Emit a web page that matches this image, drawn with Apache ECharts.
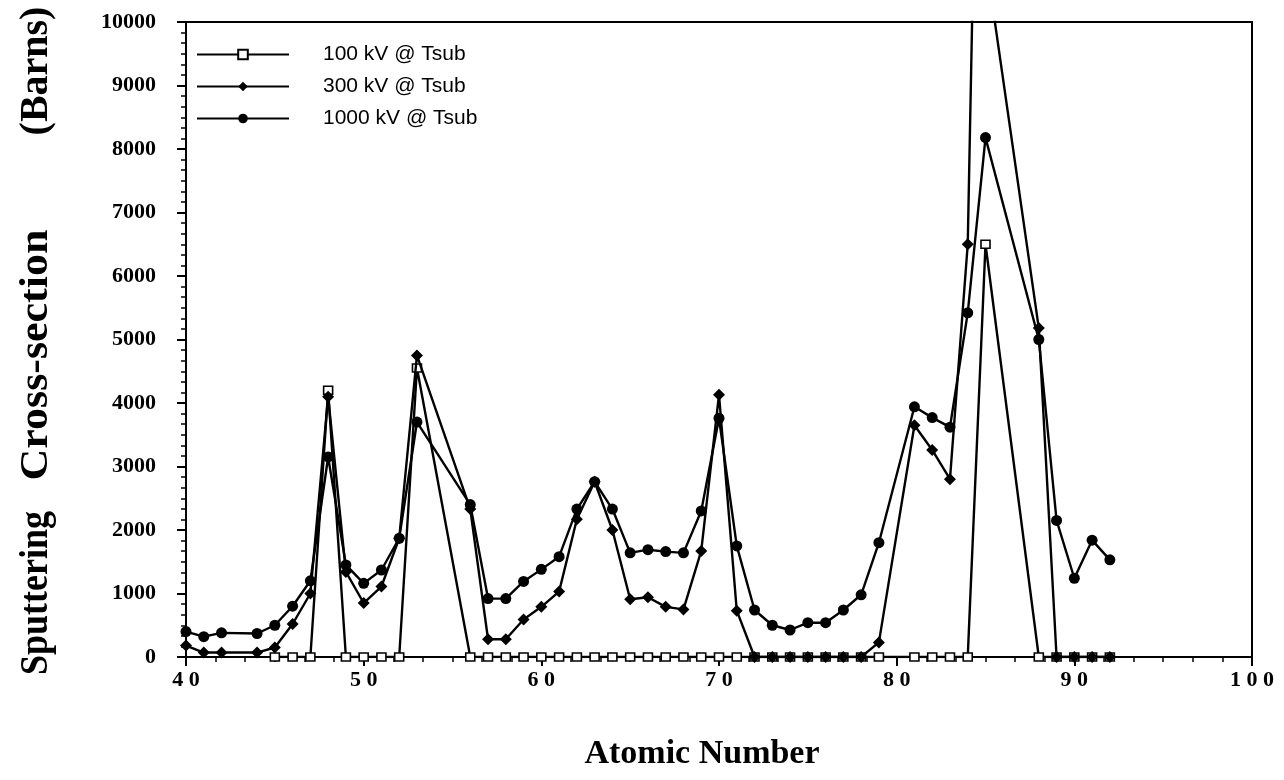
<!DOCTYPE html>
<html>
<head>
<meta charset="utf-8">
<script src="https://cdn.jsdelivr.net/npm/echarts@6/dist/echarts.min.js"></script>
<style>
  html, body { margin: 0; padding: 0; background: #fff; }
  #chart { width: 1284px; height: 780px; }
</style>
</head>
<body>
<div id="chart"></div>
<script>
// ---- Data (x = atomic number, y = cross-section in barns) ----
const seriesNames = ['100 kV @ Tsub', '300 kV @ Tsub', '1000 kV @ Tsub'];

const z100 = [45,46,47,48,49,50,51,52,53,56,57,58,59,60,61,62,63,64,65,66,67,68,69,70,71,72,73,74,75,76,77,78,79,81,82,83,84,85,88,89,90,91,92];
const v100 = [0,0,0,4200,0,0,0,0,4550,0,0,0,0,0,0,0,0,0,0,0,0,0,0,0,0,0,0,0,0,0,0,0,0,0,0,0,0,6500,0,0,0,0,0];

const z300 = [40,41,42,44,45,46,47,48,49,50,51,52,53,56,57,58,59,60,61,62,63,64,65,66,67,68,69,70,71,72,73,74,75,76,77,78,79,81,82,83,84,84.4,88,89,90,91,92];
const v300 = [180,70,70,70,150,520,1000,4100,1340,850,1110,1870,4750,2330,280,280,590,790,1030,2170,2760,2000,910,940,790,750,1670,4130,730,0,0,0,0,0,0,0,230,3650,3260,2800,6500,12200,5180,0,0,0,0];

const z1000 = [40,41,42,44,45,46,47,48,49,50,51,52,53,56,57,58,59,60,61,62,63,64,65,66,67,68,69,70,71,72,73,74,75,76,77,78,79,81,82,83,84,85,88,89,90,91,92];
const v1000 = [400,320,380,370,500,800,1200,3150,1450,1160,1370,1870,3700,2400,920,920,1190,1380,1580,2330,2760,2330,1640,1690,1660,1640,2300,3760,1750,740,500,425,540,540,740,980,1800,3940,3770,3620,5420,8180,5000,2150,1240,1840,1530];

const xMin = 40, xMax = 100, xStep = 10;
const yMin = 0, yMax = 10000, yStep = 1000;

const xTitle = 'Atomic Number';
const yTitleWords = ['Sputtering', 'Cross-section', '(Barns)'];

function pairs(z, v) { return z.map((x, i) => [x, v[i]]); }

const serif = '"Liberation Serif", "Times New Roman", serif';
const sans = '"Liberation Sans", Arial, Helvetica, sans-serif';

const chart = echarts.init(document.getElementById('chart'), null, { renderer: 'canvas' });

const axisCommon = {
  axisLine: { show: true, lineStyle: { color: '#000', width: 2 } },
  axisTick: { show: true, inside: false, length: 9, lineStyle: { color: '#000', width: 2 } },
  minorTick: { show: true, splitNumber: 6, length: 5, lineStyle: { color: '#000', width: 1.5 } },
  splitLine: { show: false },
  minorSplitLine: { show: false }
};

chart.setOption({
  animation: false,
  backgroundColor: '#fff',
  grid: {
    left: 186, right: 32, top: 22, bottom: 123,
    show: true, borderColor: '#000', borderWidth: 2, backgroundColor: 'transparent',
    containLabel: false
  },
  legend: {
    orient: 'vertical',
    left: 191, top: 39,
    itemWidth: 92, itemHeight: 12, itemGap: 11,
    data: seriesNames,
    textStyle: { fontFamily: sans, fontSize: 21, color: '#000', padding: [0, 0, 0, 29] }
  },
  xAxis: Object.assign({
    type: 'value', min: xMin, max: xMax, interval: xStep,
    name: xTitle, nameLocation: 'middle', nameGap: 80,
    nameTextStyle: { fontFamily: serif, fontWeight: 'bold', fontSize: 34, color: '#000', padding: [0, 34, 0, 0] },
    axisLabel: {
      margin: 12, color: '#000', fontFamily: serif, fontWeight: 'bold', fontSize: 22,
      formatter: v => String(v).split('').join(' ')
    }
  }, axisCommon),
  yAxis: Object.assign({
    type: 'value', min: yMin, max: yMax, interval: yStep,
    axisLabel: { margin: 30, color: '#000', fontFamily: serif, fontWeight: 'bold', fontSize: 22,
      formatter: v => String(v) }
  }, axisCommon),
  graphic: [
    { type: 'text', x: 37, y: 593, rotation: Math.PI / 2, scaleX: 0.9,
      style: { text: yTitleWords[0], font: 'bold 40px ' + serif, fill: '#000', align: 'center', verticalAlign: 'middle' } },
    { type: 'text', x: 37, y: 355, rotation: Math.PI / 2, scaleX: 1.1,
      style: { text: yTitleWords[1], font: 'bold 40px ' + serif, fill: '#000', align: 'center', verticalAlign: 'middle' } },
    { type: 'text', x: 37, y: 71, rotation: Math.PI / 2,
      style: { text: yTitleWords[2], font: 'bold 40px ' + serif, fill: '#000', align: 'center', verticalAlign: 'middle' } }
  ],
  series: [
    {
      name: seriesNames[0], type: 'line', data: pairs(z100, v100),
      symbol: 'rect', symbolSize: [9, 8], z: 2,
      lineStyle: { color: '#000', width: 2.4 },
      itemStyle: { color: '#fff', borderColor: '#000', borderWidth: 1.5 }
    },
    {
      name: seriesNames[1], type: 'line', data: pairs(z300, v300),
      symbol: 'diamond', symbolSize: 12, z: 3,
      lineStyle: { color: '#000', width: 2.4 },
      itemStyle: { color: '#000' }
    },
    {
      name: seriesNames[2], type: 'line', data: pairs(z1000, v1000),
      symbol: 'circle', symbolSize: 11, z: 4,
      lineStyle: { color: '#000', width: 2.4 },
      itemStyle: { color: '#000' }
    }
  ]
});
</script>
</body>
</html>
